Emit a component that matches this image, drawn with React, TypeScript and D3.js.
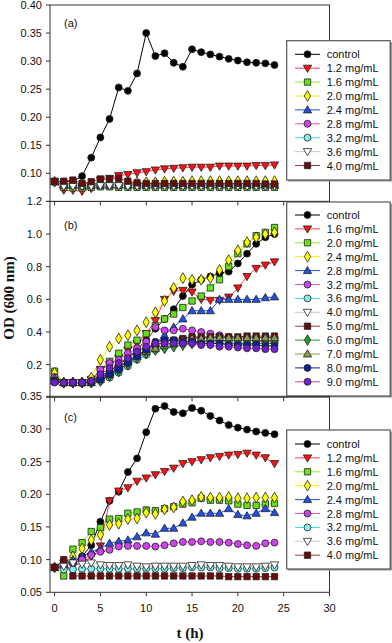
import React from 'react';
import * as d3 from 'd3';

// sampling times (h)
const hours = [0, 1, 2, 3, 4, 5, 6, 7, 8, 9, 10, 11, 12, 13, 14, 15, 16, 17, 18, 19, 20, 21, 22, 23, 24];
const xTicks = [0, 5, 10, 15, 20, 25, 30];

const labelsA = ['control', '1.2 mg/mL', '1.6 mg/mL', '2.0 mg/mL', '2.4 mg/mL', '2.8 mg/mL', '3.2 mg/mL', '3.6 mg/mL', '4.0 mg/mL'];
const labelsB = ['control', '1.6 mg/mL', '2.0 mg/mL', '2.4 mg/mL', '2.8 mg/mL', '3.2 mg/mL', '3.6 mg/mL', '4.0 mg/mL', '5.0 mg/mL', '6.0 mg/mL', '7.0 mg/mL', '8.0 mg/mL', '9.0 mg/mL'];
const labelsC = ['control', '1.2 mg/mL', '1.6 mg/mL', '2.0 mg/mL', '2.4 mg/mL', '2.8 mg/mL', '3.2 mg/mL', '3.6 mg/mL', '4.0 mg/mL'];

// panel (a)
const aControl = [0.085, 0.085, 0.086, 0.095, 0.128, 0.164, 0.197, 0.253, 0.247, 0.278, 0.350, 0.309, 0.314, 0.297, 0.290, 0.321, 0.316, 0.312, 0.308, 0.304, 0.301, 0.298, 0.297, 0.296, 0.293];
const a12 = [0.085, 0.070, 0.070, 0.068, 0.073, 0.088, 0.091, 0.096, 0.098, 0.101, 0.103, 0.106, 0.108, 0.109, 0.110, 0.111, 0.111, 0.111, 0.113, 0.113, 0.113, 0.113, 0.114, 0.114, 0.115];
const a16 = [0.085, 0.075, 0.074, 0.074, 0.075, 0.076, 0.076, 0.075, 0.075, 0.075, 0.075, 0.075, 0.075, 0.075, 0.075, 0.075, 0.075, 0.075, 0.075, 0.075, 0.075, 0.075, 0.075, 0.075, 0.075];
const a20 = [0.085, 0.080, 0.081, 0.080, 0.081, 0.082, 0.083, 0.083, 0.083, 0.084, 0.084, 0.084, 0.085, 0.085, 0.085, 0.086, 0.086, 0.086, 0.086, 0.086, 0.086, 0.086, 0.086, 0.086, 0.086];
const a24 = [0.085, 0.079, 0.079, 0.078, 0.079, 0.079, 0.079, 0.079, 0.079, 0.079, 0.079, 0.079, 0.079, 0.079, 0.079, 0.079, 0.079, 0.079, 0.079, 0.079, 0.079, 0.079, 0.079, 0.079, 0.079];
const a28 = [0.085, 0.078, 0.078, 0.077, 0.078, 0.078, 0.078, 0.078, 0.078, 0.078, 0.078, 0.078, 0.078, 0.078, 0.078, 0.078, 0.078, 0.078, 0.078, 0.078, 0.078, 0.078, 0.078, 0.078, 0.078];
const a32 = [0.085, 0.079, 0.079, 0.078, 0.079, 0.081, 0.081, 0.079, 0.079, 0.079, 0.079, 0.079, 0.079, 0.079, 0.079, 0.079, 0.079, 0.079, 0.079, 0.079, 0.079, 0.079, 0.079, 0.079, 0.079];
const a36 = [0.085, 0.077, 0.077, 0.077, 0.077, 0.078, 0.078, 0.078, 0.077, 0.077, 0.077, 0.077, 0.077, 0.077, 0.077, 0.077, 0.077, 0.077, 0.077, 0.077, 0.077, 0.077, 0.077, 0.077, 0.077];
const a40 = [0.086, 0.086, 0.088, 0.082, 0.085, 0.090, 0.090, 0.091, 0.086, 0.083, 0.082, 0.082, 0.082, 0.082, 0.082, 0.082, 0.082, 0.082, 0.082, 0.082, 0.082, 0.082, 0.082, 0.081, 0.081];

// panel (b)
const bControl = [0.10, 0.09, 0.09, 0.09, 0.10, 0.13, 0.16, 0.20, 0.24, 0.29, 0.35, 0.42, 0.48, 0.54, 0.62, 0.69, 0.72, 0.74, 0.76, 0.77, 0.82, 0.88, 0.94, 0.98, 1.00];
const b16 = [0.10, 0.09, 0.09, 0.09, 0.11, 0.17, 0.20, 0.24, 0.29, 0.33, 0.39, 0.47, 0.60, 0.65, 0.655, 0.645, 0.60, 0.594, 0.594, 0.614, 0.67, 0.74, 0.79, 0.81, 0.83];
const b20 = [0.16, 0.09, 0.09, 0.09, 0.11, 0.17, 0.22, 0.27, 0.32, 0.35, 0.39, 0.44, 0.48, 0.51, 0.55, 0.59, 0.62, 0.67, 0.72, 0.80, 0.88, 0.94, 0.99, 1.01, 1.04];
const b24 = [0.15, 0.09, 0.09, 0.09, 0.12, 0.23, 0.31, 0.36, 0.38, 0.41, 0.46, 0.52, 0.59, 0.67, 0.73, 0.72, 0.72, 0.73, 0.78, 0.84, 0.90, 0.95, 0.98, 1.00, 1.01];
const b28 = [0.10, 0.09, 0.09, 0.09, 0.10, 0.12, 0.15, 0.19, 0.22, 0.25, 0.29, 0.33, 0.38, 0.43, 0.48, 0.53, 0.53, 0.53, 0.60, 0.60, 0.60, 0.60, 0.60, 0.61, 0.615];
const b32 = [0.125, 0.09, 0.09, 0.09, 0.10, 0.17, 0.21, 0.23, 0.27, 0.30, 0.34, 0.43, 0.41, 0.41, 0.42, 0.41, 0.40, 0.39, 0.38, 0.37, 0.36, 0.35, 0.345, 0.34, 0.34];
const b36 = [0.10, 0.09, 0.09, 0.09, 0.09, 0.10, 0.12, 0.15, 0.19, 0.23, 0.26, 0.29, 0.31, 0.32, 0.33, 0.34, 0.34, 0.34, 0.34, 0.34, 0.335, 0.33, 0.33, 0.33, 0.33];
const b40 = [0.10, 0.09, 0.09, 0.09, 0.09, 0.10, 0.13, 0.17, 0.21, 0.25, 0.28, 0.31, 0.33, 0.34, 0.35, 0.35, 0.35, 0.35, 0.35, 0.35, 0.35, 0.35, 0.35, 0.35, 0.35];
const b50 = [0.10, 0.09, 0.09, 0.09, 0.09, 0.11, 0.14, 0.18, 0.22, 0.26, 0.29, 0.32, 0.34, 0.35, 0.36, 0.37, 0.37, 0.37, 0.37, 0.37, 0.37, 0.375, 0.375, 0.375, 0.375];
const b60 = [0.11, 0.09, 0.09, 0.09, 0.09, 0.10, 0.13, 0.16, 0.20, 0.24, 0.27, 0.29, 0.30, 0.31, 0.32, 0.33, 0.33, 0.33, 0.33, 0.33, 0.33, 0.33, 0.33, 0.33, 0.33];
const b70 = [0.10, 0.09, 0.09, 0.09, 0.09, 0.11, 0.14, 0.18, 0.22, 0.26, 0.28, 0.30, 0.32, 0.33, 0.35, 0.36, 0.36, 0.365, 0.365, 0.365, 0.365, 0.365, 0.365, 0.365, 0.365];
const b80 = [0.10, 0.09, 0.09, 0.09, 0.09, 0.11, 0.14, 0.17, 0.21, 0.25, 0.29, 0.34, 0.35, 0.35, 0.34, 0.34, 0.33, 0.33, 0.33, 0.32, 0.32, 0.32, 0.32, 0.315, 0.315];
const b90 = [0.09, 0.09, 0.09, 0.09, 0.10, 0.14, 0.18, 0.21, 0.24, 0.28, 0.31, 0.33, 0.33, 0.33, 0.33, 0.33, 0.32, 0.32, 0.31, 0.31, 0.305, 0.30, 0.30, 0.295, 0.295];

// panel (c)
const cControl = [0.088, 0.090, 0.095, 0.105, 0.122, 0.158, 0.190, 0.204, 0.234, 0.255, 0.295, 0.331, 0.335, 0.326, 0.324, 0.332, 0.328, 0.320, 0.313, 0.306, 0.302, 0.299, 0.296, 0.294, 0.292];
const c12 = [0.088, 0.095, 0.090, 0.095, 0.105, 0.121, 0.190, 0.205, 0.210, 0.220, 0.225, 0.230, 0.235, 0.240, 0.247, 0.250, 0.253, 0.256, 0.258, 0.260, 0.261, 0.263, 0.260, 0.256, 0.247];
const c16 = [0.088, 0.075, 0.116, 0.126, 0.143, 0.149, 0.162, 0.163, 0.171, 0.173, 0.176, 0.175, 0.178, 0.181, 0.185, 0.187, 0.194, 0.191, 0.191, 0.190, 0.185, 0.183, 0.183, 0.185, 0.186];
const c20 = [0.088, 0.095, 0.105, 0.117, 0.130, 0.138, 0.153, 0.155, 0.162, 0.163, 0.172, 0.170, 0.177, 0.180, 0.189, 0.191, 0.196, 0.195, 0.195, 0.196, 0.194, 0.194, 0.195, 0.195, 0.195];
const c24 = [0.088, 0.092, 0.100, 0.105, 0.112, 0.117, 0.125, 0.128, 0.130, 0.135, 0.141, 0.139, 0.148, 0.148, 0.156, 0.165, 0.171, 0.171, 0.171, 0.178, 0.169, 0.167, 0.171, 0.178, 0.172];
const c28 = [0.088, 0.090, 0.095, 0.100, 0.107, 0.112, 0.115, 0.120, 0.121, 0.121, 0.121, 0.120, 0.122, 0.125, 0.127, 0.127, 0.128, 0.127, 0.127, 0.126, 0.124, 0.122, 0.121, 0.125, 0.126];
const c32 = [0.088, 0.085, 0.085, 0.086, 0.086, 0.086, 0.086, 0.086, 0.086, 0.086, 0.086, 0.086, 0.086, 0.087, 0.087, 0.088, 0.088, 0.088, 0.087, 0.087, 0.086, 0.086, 0.086, 0.087, 0.088];
const c36 = [0.088, 0.090, 0.095, 0.093, 0.095, 0.092, 0.091, 0.091, 0.092, 0.090, 0.089, 0.090, 0.090, 0.090, 0.090, 0.091, 0.092, 0.091, 0.091, 0.090, 0.089, 0.089, 0.089, 0.090, 0.092];
const c40 = [0.088, 0.100, 0.075, 0.075, 0.075, 0.075, 0.075, 0.075, 0.075, 0.075, 0.075, 0.075, 0.075, 0.075, 0.075, 0.075, 0.075, 0.075, 0.075, 0.074, 0.074, 0.074, 0.074, 0.074, 0.074];

const seriesA = [aControl, a12, a16, a20, a24, a28, a32, a36, a40];
const seriesB = [bControl, b16, b20, b24, b28, b32, b36, b40, b50, b60, b70, b80, b90];
const seriesC = [cControl, c12, c16, c20, c24, c28, c32, c36, c40];

type Shape = 'circle' | 'triDown' | 'triUp' | 'square' | 'diamond';
const styles: { shape: Shape; fill: string; line: string }[] = [
  { shape: 'circle', fill: '#000000', line: '#000000' },
  { shape: 'triDown', fill: '#ff1010', line: '#ff3a5a' },
  { shape: 'square', fill: '#66e01a', line: '#8cf020' },
  { shape: 'diamond', fill: '#ffff00', line: '#f0f000' },
  { shape: 'triUp', fill: '#2050e8', line: '#2050e8' },
  { shape: 'circle', fill: '#cc44ee', line: '#f050a8' },
  { shape: 'circle', fill: '#80f0f0', line: '#40dcdc' },
  { shape: 'triDown', fill: '#ffffff', line: '#c8c8c8' },
  { shape: 'square', fill: '#6a0a0a', line: '#9a3a4a' },
  { shape: 'diamond', fill: '#2a9a2a', line: '#2a9a2a' },
  { shape: 'triUp', fill: '#8a9a50', line: '#8a9a50' },
  { shape: 'circle', fill: '#0a20a0', line: '#0a20a0' },
  { shape: 'circle', fill: '#7020d0', line: '#d04090' },
];

const symbolPath: Record<Shape, string> = {
  circle: d3.symbol(d3.symbolCircle, 38)() as string,
  square: d3.symbol(d3.symbolSquare, 40)() as string,
  triUp: d3.symbol(d3.symbolTriangle, 30)() as string,
  triDown: d3.symbol(d3.symbolTriangle, 30)() as string,
  diamond: d3.symbol(d3.symbolDiamond, 34)() as string,
};

const x = d3.scaleLinear().domain([-0.5, 30]).range([50, 329.5]);
const FRAME_L = 50;
const FRAME_R = 329.5;
const sans = 'Liberation Sans, Arial, sans-serif';
const serif = 'Liberation Serif, Times New Roman, serif';

const panels = [
  {
    tag: '(a)', series: seriesA, labels: labelsA,
    y: d3.scaleLinear().domain([0.05, 0.40]).range([201.4, 5]),
    ticks: [0.05, 0.10, 0.15, 0.20, 0.25, 0.30, 0.35, 0.40], fmt: d3.format('.2f'), skipFirst: true,
    tagY: 26.5, legend: { top: 40.7, h: 139.3, first: 54.3 },
  },
  {
    tag: '(b)', series: seriesB, labels: labelsB,
    y: d3.scaleLinear().domain([0, 1.2]).range([397.3, 201.4]),
    ticks: [0, 0.2, 0.4, 0.6, 0.8, 1.0, 1.2], fmt: d3.format('.1f'), skipFirst: true,
    tagY: 229, legend: { top: 202, h: 194, first: 215 },
  },
  {
    tag: '(c)', series: seriesC, labels: labelsC,
    y: d3.scaleLinear().domain([0.05, 0.35]).range([592.3, 396.3]),
    ticks: [0.05, 0.10, 0.15, 0.20, 0.25, 0.30, 0.35], fmt: d3.format('.2f'), skipFirst: false,
    tagY: 421, legend: { top: 430, h: 139, first: 444 },
  },
];

const Marker = ({ cx, cy, s }: { cx: number; cy: number; s: number }) => {
  const st = styles[s];
  const rot = st.shape === 'triDown' ? ' rotate(180)' : '';
  const dy = st.shape === 'triDown' ? -0.6 : st.shape === 'triUp' ? 0.6 : 0;
  return (
    <path
      d={symbolPath[st.shape]}
      transform={`translate(${cx},${cy + dy})${rot}`}
      fill={st.fill}
      stroke="#222"
      strokeWidth={0.8}
    />
  );
};

const App = () => {
  return (
    <svg width={392} height={643} style={{ position: 'absolute', left: 0, top: 0, background: '#fff' }}>
      <rect x={0} y={0} width={392} height={643} fill="#fff" />
      {panels.map((p, pi) => {
        const [yBot, yTop] = p.y.range();
        const line = d3.line<number>().x((_, i) => x(hours[i])).y((v) => p.y(v));
        return (
          <g key={pi}>
            {/* frame */}
            <rect x={FRAME_L} y={yTop} width={FRAME_R - FRAME_L} height={yBot - yTop} fill="none" stroke="#333" strokeWidth={1} />
            {/* y ticks */}
            {p.ticks.map((t, i) => (
              <g key={i}>
                <line x1={FRAME_L - 4} x2={FRAME_L} y1={p.y(t)} y2={p.y(t)} stroke="#333" />
                {!(p.skipFirst && i === 0) && (
                  <text x={FRAME_L - 8} y={p.y(t) + 4} textAnchor="end" fontFamily={sans} fontSize={11} fill="#111">
                    {p.fmt(t)}
                  </text>
                )}
              </g>
            ))}
            {/* x ticks */}
            {xTicks.map((t) => (
              <line key={t} x1={x(t)} x2={x(t)} y1={yBot} y2={yBot + 4} stroke="#333" />
            ))}
            <text x={64} y={p.tagY} fontFamily={sans} fontSize={11} fill="#111">{p.tag}</text>
            {/* data */}
            {p.series.map((vals, si) => (
              <path key={'l' + si} d={line(vals) as string} fill="none" stroke={styles[si].line} strokeWidth={1} />
            ))}
            {p.series.map((vals, si) => (
              <g key={'m' + si}>
                {vals.map((v, i) => (
                  <Marker key={i} cx={x(hours[i])} cy={p.y(v)} s={si} />
                ))}
              </g>
            ))}
            {/* legend */}
            <rect x={288} y={p.legend.top + 1.5} width={104} height={p.legend.h} fill="#999" />
            <rect x={286.7} y={p.legend.top} width={103.5} height={p.legend.h} fill="#fff" stroke="#555" strokeWidth={1.2} />
            {p.labels.map((lab, li) => {
              const cy = p.legend.first + li * 13.9;
              return (
                <g key={li}>
                  <line x1={295} x2={320} y1={cy} y2={cy} stroke={styles[li].line} strokeWidth={1} />
                  <Marker cx={307.5} cy={cy} s={li} />
                  <text x={326.7} y={cy + 4} fontFamily={sans} fontSize={11} fill="#111">{lab}</text>
                </g>
              );
            })}
          </g>
        );
      })}
      {/* x tick labels under bottom panel */}
      {xTicks.map((t) => (
        <text key={t} x={x(t)} y={612} textAnchor="middle" fontFamily={sans} fontSize={11} fill="#111">{t}</text>
      ))}
      <text x={190} y={638} textAnchor="middle" fontFamily={serif} fontWeight="bold" fontSize={15} fill="#111">t (h)</text>
      <text transform="translate(14,298) rotate(-90)" textAnchor="middle" fontFamily={serif} fontWeight="bold" fontSize={15} fill="#111">
        OD (600 nm)
      </text>
    </svg>
  );
};

export default App;
